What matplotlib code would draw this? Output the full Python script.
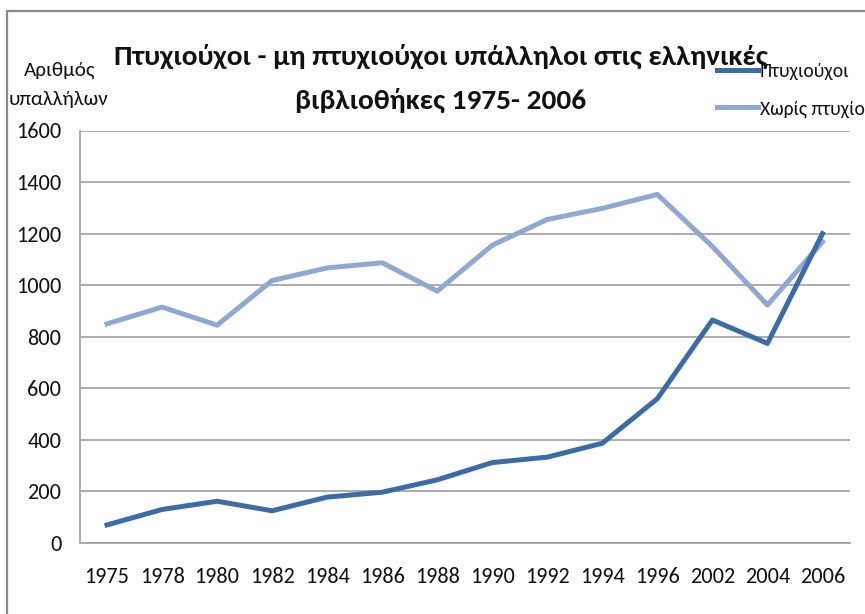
import matplotlib
matplotlib.use("Agg")
import matplotlib.pyplot as plt
from matplotlib.patches import Rectangle

years = ["1975", "1978", "1980", "1982", "1984", "1986", "1988", "1990",
         "1992", "1994", "1996", "2002", "2004", "2006"]
graduates = [70, 130, 162, 125, 178, 197, 245, 312, 333, 387, 560, 865, 774, 1200]
non_graduates = [850, 915, 845, 1018, 1067, 1087, 977, 1155, 1255, 1298, 1352, 1150, 923, 1168]
series_names = ["Πτυχιούχοι", "Χωρίς πτυχίο"]
y_ticks = [0, 200, 400, 600, 800, 1000, 1200, 1400, 1600]
title_lines = ["Πτυχιούχοι - μη πτυχιούχοι υπάλληλοι στις ελληνικές",
               "βιβλιοθήκες 1975- 2006"]
y_title = ["Αριθμός", "υπαλλήλων"]

plt.rcParams["font.family"] = ["Carlito", "DejaVu Sans"]

W, H = 865, 614
fig = plt.figure(figsize=(W / 100, H / 100), dpi=100)
fig.patch.set_facecolor("white")
renderer = fig.canvas.get_renderer()


def fit_width(t, target_px):
    w = t.get_window_extent(renderer=renderer).width
    t.set_fontsize(t.get_fontsize() * target_px / w)
    return t.get_fontsize()


# outer chart frame (clipped by the image edge)
fig.patches.append(Rectangle((7 / W, -0.1), 1.2, 1 - 11 / H + 0.1,
                             transform=fig.transFigure, fill=False,
                             edgecolor="#8a8a8a", linewidth=1.6))

ax = fig.add_axes([79.5 / W, 1 - 543 / H, (850 - 79.5) / W, (543 - 130.5) / H])
x = list(range(len(years)))
dark = "#3D6CA5"
light = "#8EA8D1"
l1, = ax.plot(x, graduates, color=dark, linewidth=3.6, solid_joinstyle="round", zorder=3)
l2, = ax.plot(x, non_graduates, color=light, linewidth=3.6, solid_joinstyle="round", zorder=2)

# tick label size: fit "1975" to ~45 px width
probe = fig.text(0, 0, years[0], fontsize=16)
tick_fs = fit_width(probe, 45)
probe.remove()

ax.set_xlim(-0.5, len(years) - 0.5)
ax.set_ylim(0, 1600)
ax.set_yticks(y_ticks)
ax.set_yticklabels([str(v) for v in y_ticks])
ax.set_xticks(x)
ax.set_xticklabels(years)
ax.tick_params(axis="both", length=0, labelsize=tick_fs, colors="#111111")
ax.tick_params(axis="y", pad=13)
ax.tick_params(axis="x", pad=17)
ax.grid(axis="y", color="#a6a6a6", linewidth=1.3)
ax.set_axisbelow(True)
for s in ["right", "top"]:
    ax.spines[s].set_visible(False)
for s in ["left", "bottom"]:
    ax.spines[s].set_color("#a6a6a6")
    ax.spines[s].set_linewidth(1.3)

# title
t1 = fig.text(441 / W, 1 - 56 / H, title_lines[0], ha="center", va="center",
              fontsize=18, fontweight="bold", color="#111111")
tfs = fit_width(t1, 652)
fig.text(441 / W, 1 - 100 / H, title_lines[1], ha="center", va="center",
         fontsize=tfs, fontweight="bold", color="#111111")

# y-axis title
ya = fig.text(59 / W, 1 - 100 / H, y_title[1], ha="center", va="center",
              fontsize=13, color="#111111")
yfs = fit_width(ya, 100)
fig.text(60 / W, 1 - 70 / H, y_title[0], ha="center", va="center",
         fontsize=yfs, color="#111111")

# legend
probe = fig.text(0, 0, series_names[0], fontsize=14)
lfs = fit_width(probe, 90)
probe.remove()
lf_px = lfs * 100 / 72
leg = fig.legend([l1, l2], series_names, loc="upper left",
                 bbox_to_anchor=(717 / W, 1 - 63 / H), frameon=False,
                 fontsize=lfs, handlelength=41 / lf_px, handletextpad=2 / lf_px,
                 labelspacing=(40 - lf_px) / lf_px, borderaxespad=0, borderpad=0)
for t in leg.get_texts():
    t.set_color("#111111")

fig.savefig("out.png", dpi=100, facecolor="white")
